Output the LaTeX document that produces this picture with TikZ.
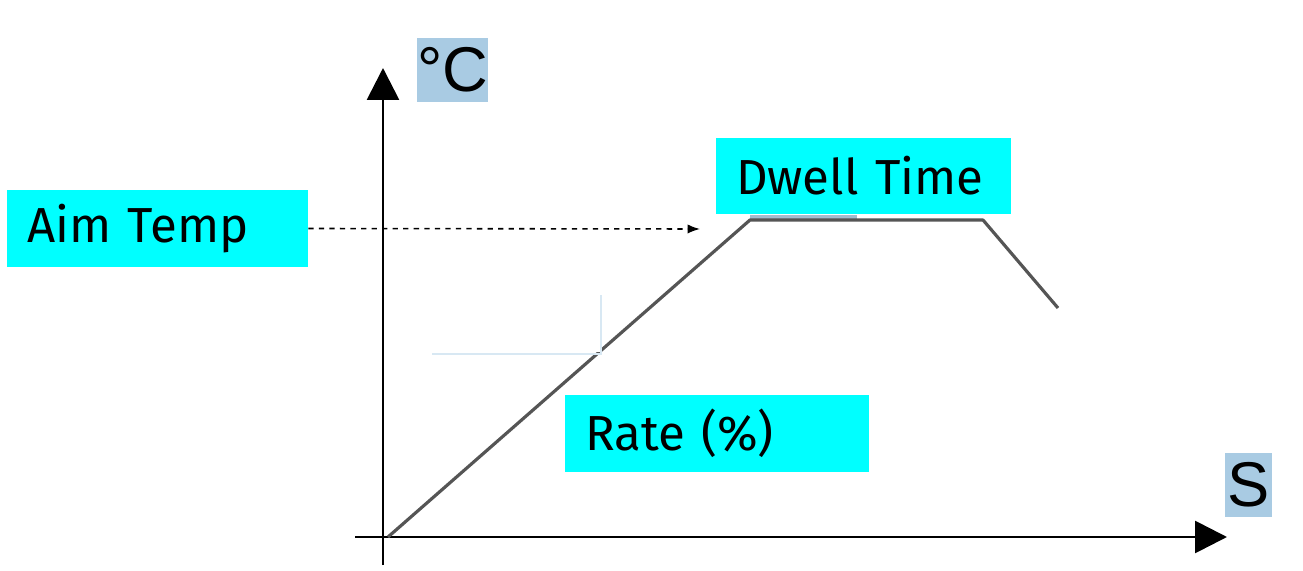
\documentclass[tikz,border=0pt]{standalone}
\usepackage{fontspec}
\setmainfont{Liberation Sans}
\newfontfamily\handfont{Fira Sans}
\usetikzlibrary{arrows.meta}
\definecolor{labelcyan}{HTML}{00FFFF}
\definecolor{unitblue}{HTML}{A9CBE3}
\definecolor{curvegray}{HTML}{555555}
\begin{document}
\begin{tikzpicture}[
    x=0.02cm, y=-0.02cm,
    tag/.style={
        fill=labelcyan,
        rectangle,
        align=left,
        inner xsep=0.4cm,
        inner ysep=0pt,
        minimum height=1.54cm,
        font=\handfont\fontsize{28}{32}\selectfont
    },
    unit/.style={
        fill=unitblue,
        inner sep=0pt,
        font=\fontsize{36}{40}\selectfont
    },
    axis/.style={line width=1.6pt, -{Triangle[length=0.64cm,width=0.64cm]}},
    curve/.style={curvegray, line width=1.8pt, line join=round},
    arrow/.style={->, >=Latex, dashed, line width=0.9pt}
]
\useasboundingbox (0,0) rectangle (1303,571);

% ===== Axes =====
\coordinate (ybot) at (383,565);
\coordinate (ytop) at (383,68);
\coordinate (xleft) at (355,537);
\coordinate (xright) at (1227,537);
\draw[axis] (ybot) -- (ytop);
\draw[axis] (xleft) -- (xright);

\node[unit, minimum width=1.42cm, minimum height=1.28cm] (degc) at (452.5,70) {°C};
\node[unit, minimum width=0.94cm, minimum height=1.28cm] (sec) at (1248.5,485) {S};

% ===== Temperature curve =====
\coordinate (p0) at (388,537);
\coordinate (p1) at (750,220);
\coordinate (p2) at (983,220);
\coordinate (p3) at (1058,308);
\draw[unitblue!80!gray, line width=2.5pt] (750,217) -- (857,217);
\draw[curve] (p0) -- (p1) -- (p2) -- (p3);

% ===== Blank patch =====
\fill[white] (400,280) rectangle (601,352);
\draw[unitblue!45, line width=0.8pt] (601,295) -- (601,354) -- (432,354);

% ===== Labels =====
\node[tag, text width=5.22cm] (aim) at (157.5,228.5) {Aim Temp};
\node[tag, text width=5.1cm] (dwell) at (863.5,176) {Dwell Time};
\node[tag, text width=5.28cm] (rate) at (717,433.5) {Rate (\%)};

% ===== Arrows =====
\coordinate (aimend) at (700,229);
\draw[arrow] (aim.east) -- (aimend);

\end{tikzpicture}
\end{document}
